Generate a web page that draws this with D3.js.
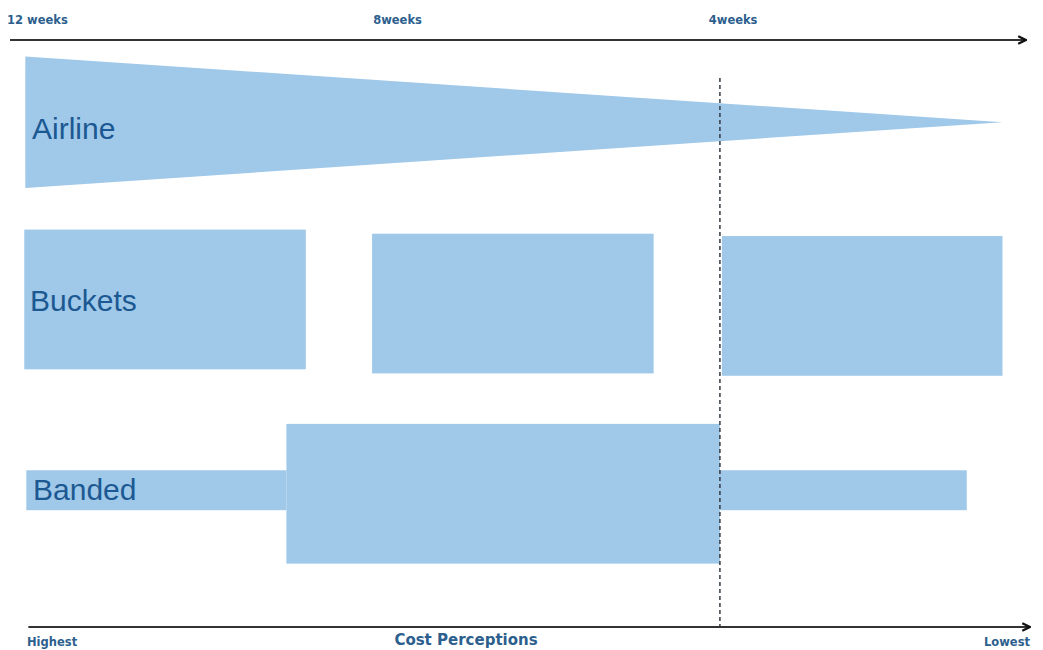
<!DOCTYPE html>
<html>
<head>
<meta charset="utf-8">
<script src="https://cdn.jsdelivr.net/npm/d3@7"></script>
<style>
  body { margin: 0; background: #fff; }
  svg { display: block; font-family: "Liberation Sans", Arial, sans-serif; }
</style>
</head>
<body>
<script>
// pricing approaches, drawn along a cost axis (0 = highest, 100 = lowest)
const rows = ["Airline", "Buckets", "Banded"];
const rowLabelY = [15, 44.4, 76.6];

// airline wedge: left edge, tip, centre, half height
const airline = {x0: 1.5, x1: 97.3, yc: 14, half: 11.2};

// bucket blocks
const bucketX0 = [1.4, 35.5, 69.8];
const bucketX1 = [29.0, 63.1, 97.3];
const bucketY = [44.2, 44.9, 45.3];
const bucketHalf = 11.9;

// banded: thin band pieces and wide core
const bandX0 = [1.6, 27.1, 69.6];
const bandX1 = [27.1, 69.6, 93.8];
const bandY = [76.7, 77.3, 76.7];
const bandHalf = [3.4, 11.9, 3.4];

const weekLabels = ["12 weeks", "8weeks", "4weeks"];
const weekPos = [0, 35.9, 68.8];
const cutoff = 69.6;

const width = 1043, height = 650;
const fill = "#9fc8e9", textBlue = "#1c5891", axisBlue = "#2d5f8e";

const x = d3.scaleLinear().domain([0, 100]).range([10, 1030]);
const y = d3.scaleLinear().domain([0, 100]).range([40, 627]);

const svg = d3.select("body").append("svg")
    .attr("width", width)
    .attr("height", height);

const defs = svg.append("defs");
defs.append("marker")
    .attr("id", "arrow")
    .attr("viewBox", "0 0 10 10")
    .attr("refX", 9).attr("refY", 5)
    .attr("markerWidth", 11).attr("markerHeight", 11)
    .attr("markerUnits", "userSpaceOnUse")
    .attr("orient", "auto")
  .append("path")
    .attr("d", "M2,1.5 L9,5 L2,8.5")
    .attr("fill", "none")
    .attr("stroke", "#111")
    .attr("stroke-width", 2);

// airline wedge
svg.append("path")
    .attr("d", d3.line()([
      [x(airline.x0), y(airline.yc - airline.half)],
      [x(airline.x1), y(airline.yc)],
      [x(airline.x0), y(airline.yc + airline.half)]
    ]) + "Z")
    .attr("fill", fill);

// buckets
svg.selectAll(".bucket").data(bucketX0).enter().append("rect")
    .attr("class", "bucket")
    .attr("x", d => x(d))
    .attr("width", (d, i) => x(bucketX1[i]) - x(d))
    .attr("y", (d, i) => y(bucketY[i] - bucketHalf))
    .attr("height", (d, i) => y(bucketY[i] + bucketHalf) - y(bucketY[i] - bucketHalf))
    .attr("fill", fill);

// banded
svg.selectAll(".band").data(bandX0).enter().append("rect")
    .attr("class", "band")
    .attr("x", d => x(d))
    .attr("width", (d, i) => x(bandX1[i]) - x(d))
    .attr("y", (d, i) => y(bandY[i] - bandHalf[i]))
    .attr("height", (d, i) => y(bandY[i] + bandHalf[i]) - y(bandY[i] - bandHalf[i]))
    .attr("fill", fill);

// row labels
svg.selectAll(".rowlabel").data(rows).enter().append("text")
    .attr("class", "rowlabel")
    .attr("x", (d, i) => [32, 30, 33][i])
    .attr("y", (d, i) => y(rowLabelY[i]))
    .attr("dy", "0.35em")
    .attr("font-size", 30)
    .attr("fill", textBlue)
    .text(d => d);

// 4 week cut-off
svg.append("line")
    .attr("x1", x(cutoff)).attr("x2", x(cutoff))
    .attr("y1", 78).attr("y2", y(100))
    .attr("stroke", "#333a44")
    .attr("stroke-width", 1.5)
    .attr("stroke-dasharray", "4,3");

// top time axis
svg.append("line")
    .attr("x1", x(0)).attr("x2", x(99.6))
    .attr("y1", y(0)).attr("y2", y(0))
    .attr("stroke", "#333").attr("stroke-width", 2)
    .attr("marker-end", "url(#arrow)");

svg.selectAll(".week").data(weekLabels).enter().append("text")
    .attr("class", "week")
    .attr("x", (d, i) => x(weekPos[i]) - 3)
    .attr("y", 24)
    .attr("font-family", "DejaVu Sans")
    .attr("font-size", 11.5)
    .attr("font-weight", "bold")
    .attr("fill", axisBlue)
    .text(d => d);

// bottom cost axis
svg.append("line")
    .attr("x1", x(1.8)).attr("x2", x(100))
    .attr("y1", y(100)).attr("y2", y(100))
    .attr("stroke", "#333").attr("stroke-width", 2)
    .attr("marker-end", "url(#arrow)");

svg.append("text")
    .attr("x", 27).attr("y", 646)
    .attr("font-family", "DejaVu Sans")
    .attr("font-size", 11.5).attr("font-weight", "bold")
    .attr("fill", axisBlue)
    .text("Highest");

svg.append("text")
    .attr("x", 466).attr("y", 645)
    .attr("text-anchor", "middle")
    .attr("font-family", "DejaVu Sans")
    .attr("font-size", 15).attr("font-weight", "bold")
    .attr("fill", axisBlue)
    .text("Cost Perceptions");

svg.append("text")
    .attr("x", 1030).attr("y", 646)
    .attr("text-anchor", "end")
    .attr("font-family", "DejaVu Sans")
    .attr("font-size", 11.5).attr("font-weight", "bold")
    .attr("fill", axisBlue)
    .text("Lowest");
</script>
</body>
</html>
